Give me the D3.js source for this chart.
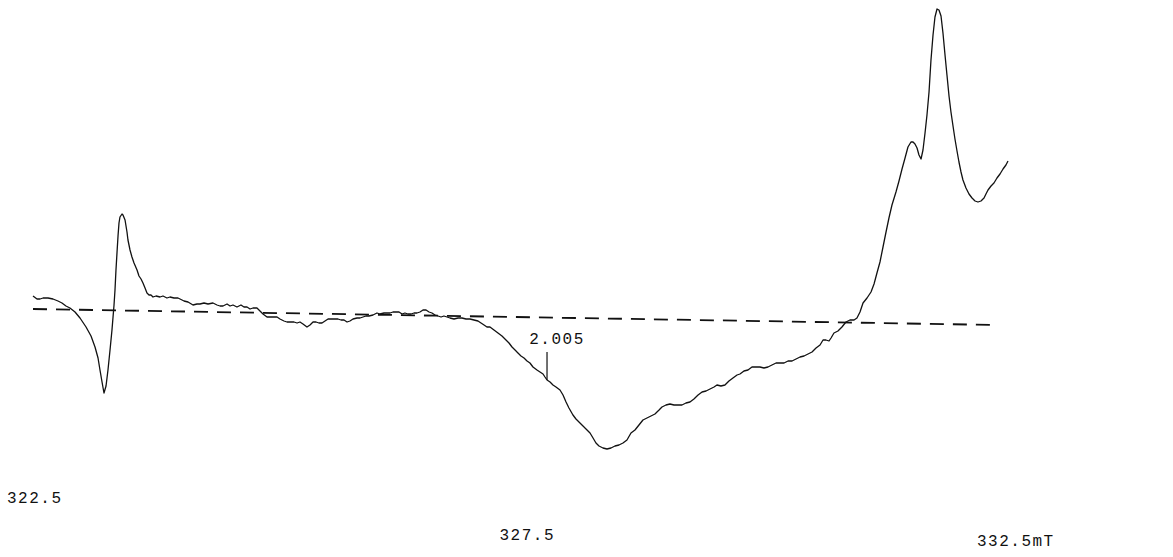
<!DOCTYPE html>
<html>
<head>
<meta charset="utf-8">
<script src="https://cdn.jsdelivr.net/npm/d3@7"></script>
<style>
  html, body { margin: 0; padding: 0; background: #fff; }
  svg { display: block; }
  text { font-family: "Liberation Mono", "DejaVu Sans Mono", monospace; font-size: 16px; fill: #111; letter-spacing: 1.5px; }
</style>
</head>
<body>
<svg id="chart" width="1173" height="557"></svg>
<script>
// ESR spectrum: magnetic field (mT) against derivative signal (arbitrary units)
const field = [
  322.500, 322.541, 322.572, 322.603, 322.654, 322.705, 322.756, 322.797, 322.838, 322.879,
  322.931, 322.982, 323.044, 323.095, 323.136, 323.167, 323.187, 323.208, 323.228, 323.249,
  323.269, 323.290, 323.310, 323.331, 323.341, 323.351, 323.362, 323.372, 323.382, 323.392,
  323.413, 323.423, 323.444, 323.464, 323.474, 323.495, 323.515, 323.536, 323.567, 323.587,
  323.608, 323.628, 323.649, 323.669, 323.690, 323.710, 323.731, 323.762, 323.803, 323.833,
  323.874, 323.905, 323.946, 323.987, 324.008, 324.049, 324.090, 324.141, 324.182, 324.213,
  324.254, 324.295, 324.346, 324.387, 324.418, 324.449, 324.490, 324.521, 324.551, 324.592,
  324.633, 324.664, 324.695, 324.726, 324.756, 324.797, 324.828, 324.859, 324.900, 324.941,
  324.972, 325.003, 325.033, 325.074, 325.105, 325.146, 325.177, 325.208, 325.238, 325.269,
  325.310, 325.341, 325.372, 325.403, 325.433, 325.464, 325.495, 325.526, 325.556, 325.597,
  325.628, 325.659, 325.690, 325.721, 325.751, 325.782, 325.823, 325.854, 325.885, 325.915,
  325.946, 325.987, 326.028, 326.059, 326.100, 326.131, 326.162, 326.192, 326.223, 326.254,
  326.285, 326.315, 326.346, 326.377, 326.408, 326.438, 326.469, 326.500, 326.531, 326.562,
  326.592, 326.623, 326.654, 326.685, 326.715, 326.746, 326.777, 326.818, 326.859, 326.900,
  326.941, 326.982, 327.023, 327.064, 327.095, 327.126, 327.156, 327.187, 327.228, 327.269,
  327.310, 327.351, 327.382, 327.413, 327.444, 327.474, 327.505, 327.536, 327.567, 327.597,
  327.628, 327.669, 327.700, 327.731, 327.751, 327.772, 327.803, 327.833, 327.864, 327.905,
  327.936, 327.967, 327.997, 328.038, 328.069, 328.110, 328.141, 328.172, 328.213, 328.244,
  328.274, 328.305, 328.346, 328.387, 328.428, 328.469, 328.510, 328.551, 328.592, 328.633,
  328.674, 328.715, 328.756, 328.797, 328.838, 328.879, 328.921, 328.951, 328.992, 329.033,
  329.074, 329.115, 329.156, 329.197, 329.238, 329.279, 329.321, 329.362, 329.403, 329.444,
  329.485, 329.515, 329.556, 329.597, 329.638, 329.679, 329.721, 329.751, 329.792, 329.833,
  329.874, 329.915, 329.956, 329.997, 330.038, 330.079, 330.121, 330.162, 330.203, 330.244,
  330.285, 330.326, 330.367, 330.408, 330.449, 330.490, 330.531, 330.572, 330.603, 330.633,
  330.664, 330.685, 330.715, 330.756, 330.797, 330.838, 330.879, 330.921, 330.951, 330.982,
  331.013, 331.054, 331.095, 331.126, 331.156, 331.187, 331.218, 331.249, 331.279, 331.310,
  331.351, 331.382, 331.413, 331.444, 331.474, 331.505, 331.526, 331.546, 331.567, 331.587,
  331.608, 331.628, 331.649, 331.669, 331.690, 331.710, 331.731, 331.751, 331.772, 331.792,
  331.813, 331.833, 331.854, 331.874, 331.895, 331.915, 331.936, 331.956, 331.977, 331.997,
  332.018, 332.038, 332.069, 332.100, 332.131, 332.162, 332.192, 332.223, 332.254, 332.274,
  332.295, 332.326, 332.356, 332.387, 332.418, 332.449, 332.479, 332.500
];

const signal = [
   14,  11,  11,  12,  12,  11,   9,   7,   4,   2,
   -2,  -8, -17, -26, -37, -48, -60, -72, -83, -76,
  -60, -40, -20,   5,  20,  40,  58,  74,  87,  93,
   96,  95,  90,  78,  70,  60,  53,  47,  40,  34,
   31,  27,  22,  17,  15,  15,  13,  14,  13,  14,
   12,  13,  12,  12,  11,   9,   8,   5,   6,   6,
    7,   6,   7,   5,   4,   4,   6,   4,   5,   3,
    5,   3,   3,   1,   2,   2,  -1,  -4,  -7,  -7,
   -7,  -7,  -9, -11, -12, -12, -12, -13, -12, -14,
  -17, -15, -12, -12, -13, -13, -11,  -9,  -9,  -9,
   -9, -10, -10, -12, -11,  -9,  -8,  -8,  -7,  -6,
   -6,  -5,  -3,  -4,  -3,  -3,  -3,  -2,  -2,  -2,
   -4,  -3,  -4,  -4,  -3,  -3,  -2,   0,   0,  -2,
   -3,  -5,  -6,  -7,  -6,  -7,  -8,  -9,  -8,  -8,
   -9,  -9, -10, -11, -13, -15, -17, -17, -20, -23,
  -26, -30, -33, -37, -40, -43, -46, -48, -51, -53,
  -57, -60, -62, -64, -67, -70, -72, -75, -77, -80,
  -85, -92, -98, -105, -109, -113, -116, -119, -123, -128,
  -133, -136, -138, -139, -138, -136, -135, -133, -130, -123,
  -120, -115, -110, -108, -106, -104, -100, -97, -95, -94,
  -95, -95, -95, -93, -92, -89, -85, -82, -81, -79,
  -77, -75, -76, -75, -71, -68, -65, -64, -61, -60,
  -57, -57, -57, -58, -57, -55, -53, -53, -53, -51,
  -51, -49, -47, -46, -44, -42, -38, -35, -30, -30,
  -31, -28, -23, -21, -17, -12, -10, -10,  -8,  -2,
    7,  12,  18,  26,  37,  48,  63,  78,  92, 105,
  118, 129, 141, 152, 163, 168, 168, 166, 162, 155,
  151, 160, 177, 195, 218, 250, 275, 293, 301, 300,
  294, 277, 255, 235, 214, 198, 184, 171, 159, 148,
  138, 130, 122, 116, 112, 109, 108, 109, 112, 116,
  120, 124, 127, 132, 136, 141, 145, 149
];

// Sloping reference baseline drawn under the spectrum
const baselineField = [322.5, 332.387];
const baselineSignal = [1, -15];

// g-value marker on the broad central line
const markerField = 327.772;
const markerSignal = -70;
const markerTop = -42;
const markerLabel = "2.005";

// Field labels along the bottom
const tickValues = [322.5, 327.5, 332.5];
const tickText = ["322.5", "327.5", "332.5mT"];
// label placement (horizontal shift, vertical baseline) per field label
const tickDx = [-26, -21, -31];
const tickBaseline = [503, 540, 546];

const svg = d3.select("#chart");

const x = d3.scaleLinear().domain([322.5, 332.5]).range([33, 1008]);
const y = d3.scaleLinear().domain([-140, 310]).range([450, 0]);

const pts = field.map((f, i) => [f, signal[i]]);

// dashed baseline
svg.append("line")
  .attr("x1", x(baselineField[0])).attr("y1", y(baselineSignal[0]))
  .attr("x2", x(baselineField[1])).attr("y2", y(baselineSignal[1]))
  .attr("stroke", "#111")
  .attr("stroke-width", 1.8)
  .attr("stroke-dasharray", "14,9");

// spectrum trace
svg.append("path")
  .datum(pts)
  .attr("fill", "none")
  .attr("stroke", "#111")
  .attr("stroke-width", 1.3)
  .attr("stroke-linejoin", "round")
  .attr("d", d3.line().x(d => x(d[0])).y(d => y(d[1])));

// g-value tick and label
svg.append("line")
  .attr("x1", x(markerField)).attr("x2", x(markerField))
  .attr("y1", y(markerSignal)).attr("y2", y(markerTop))
  .attr("stroke", "#111").attr("stroke-width", 1.2);

svg.append("text")
  .attr("x", x(markerField) + 10)
  .attr("y", y(markerTop) - 8)
  .attr("text-anchor", "middle")
  .text(markerLabel);

// field labels
svg.selectAll("text.tick")
  .data(tickValues)
  .join("text")
  .attr("class", "tick")
  .attr("x", (d, i) => x(d) + tickDx[i])
  .attr("y", (d, i) => tickBaseline[i])
  .text((d, i) => tickText[i]);
</script>
</body>
</html>
